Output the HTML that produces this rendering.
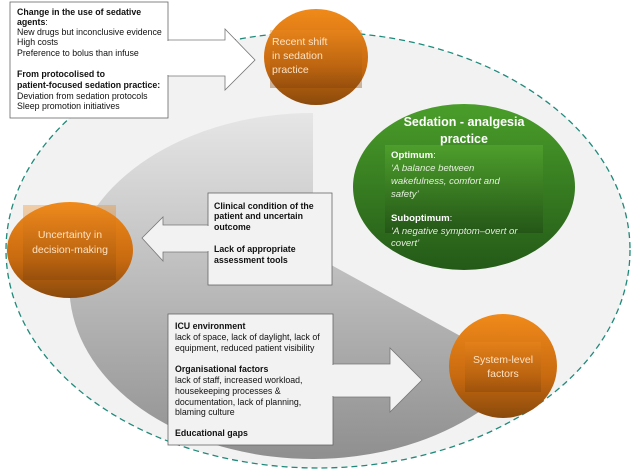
<!DOCTYPE html>
<html><head><meta charset="utf-8"><style>
html,body{margin:0;padding:0;background:#fff;}
svg{display:block;font-family:"Liberation Sans",sans-serif;}
</style></head><body>
<svg width="636" height="471" viewBox="0 0 636 471" xmlns="http://www.w3.org/2000/svg">
<defs>
<linearGradient id="gray" x1="0" y1="0" x2="0" y2="1">
<stop offset="0" stop-color="#e6e6e6"/><stop offset="1" stop-color="#8f8f8f"/></linearGradient>
<linearGradient id="orng" x1="0" y1="0" x2="0" y2="1">
<stop offset="0" stop-color="#f08a1a"/><stop offset="0.6" stop-color="#c86a10"/><stop offset="1" stop-color="#8a4a0c"/></linearGradient>
<linearGradient id="orngIn" x1="0" y1="0" x2="0" y2="1">
<stop offset="0" stop-color="#ee8a20"/><stop offset="1" stop-color="#7a3e08"/></linearGradient>
<linearGradient id="grn" x1="0" y1="0" x2="0" y2="1">
<stop offset="0" stop-color="#4a9e2a"/><stop offset="1" stop-color="#245a18"/></linearGradient>
<linearGradient id="grnIn" x1="0" y1="0" x2="0" y2="1">
<stop offset="0" stop-color="#56aa30"/><stop offset="1" stop-color="#1f4a14"/></linearGradient>
</defs>
<ellipse cx="318" cy="250" rx="312" ry="218" fill="#f2f2f2" stroke="#1f8a7a" stroke-width="1.3" stroke-dasharray="6,4"/>
<path d="M313,113 A243,173 0 1,0 524,371 L313,255 Z" fill="url(#gray)"/>
<!-- top-left box + arrow -->
<rect x="10" y="2" width="158" height="116" fill="#fff" stroke="#666" stroke-width="0.8"/>
<polygon points="168,40 225,40 225,29 255,60 225,90 225,76 168,76" fill="#fff" stroke="#777" stroke-width="0.8"/>
<rect x="166" y="41" width="4" height="34" fill="#fff"/>
<g font-size="8.8" fill="#111">
<text x="17" y="15" font-weight="bold">Change in the use of sedative</text>
<text x="17" y="25"><tspan font-weight="bold">agents</tspan>:</text>
<text x="17" y="35">New drugs but inconclusive evidence</text>
<text x="17" y="45">High costs</text>
<text x="17" y="56">Preference to bolus than infuse</text>
<text x="17" y="77" font-weight="bold">From protocolised to</text>
<text x="17" y="88" font-weight="bold">patient-focused sedation practice:</text>
<text x="17" y="99">Deviation from sedation protocols</text>
<text x="17" y="109">Sleep promotion initiatives</text>
</g>
<!-- clinical box + arrow -->
<rect x="208" y="193" width="124" height="92" fill="#f2f2f2" stroke="#666" stroke-width="0.8"/>
<polygon points="208,225 163,225 163,217 142,238 163,261 163,252 208,252" fill="#f2f2f2" stroke="#777" stroke-width="0.8"/>
<rect x="206" y="226" width="4" height="25" fill="#f2f2f2"/>
<g font-size="8.8" fill="#111" font-weight="bold">
<text x="214" y="209">Clinical condition of the</text>
<text x="214" y="219">patient and uncertain</text>
<text x="214" y="230">outcome</text>
<text x="214" y="252">Lack of appropriate</text>
<text x="214" y="263">assessment tools</text>
</g>
<!-- ICU box + arrow -->
<rect x="168" y="314" width="165" height="131" fill="#f2f2f2" stroke="#666" stroke-width="0.8"/>
<polygon points="333,364 390,364 390,348 422,380 390,412 390,397 333,397" fill="#f2f2f2" stroke="#777" stroke-width="0.8"/>
<rect x="331" y="365" width="4" height="31" fill="#f2f2f2"/>
<g font-size="8.8" fill="#111">
<text x="175" y="329" font-weight="bold">ICU environment</text>
<text x="175" y="340">lack of space, lack of daylight, lack of</text>
<text x="175" y="351">equipment, reduced patient visibility</text>
<text x="175" y="372" font-weight="bold">Organisational factors</text>
<text x="175" y="383">lack of staff, increased workload,</text>
<text x="175" y="394">housekeeping processes &amp;</text>
<text x="175" y="405">documentation, lack of planning,</text>
<text x="175" y="415">blaming culture</text>
<text x="175" y="436" font-weight="bold">Educational gaps</text>
</g>
<!-- orange circles -->
<ellipse cx="316" cy="57" rx="52" ry="48" fill="url(#orng)"/>
<rect x="270" y="30" width="92" height="58" fill="url(#orngIn)" opacity="0.35"/>
<g font-size="10.5" fill="#fde3c4">
<text x="272" y="45">Recent shift</text>
<text x="272" y="59">in sedation</text>
<text x="272" y="73">practice</text>
</g>
<ellipse cx="70" cy="250" rx="63" ry="48" fill="url(#orng)"/>
<rect x="23" y="205" width="93" height="75" fill="url(#orngIn)" opacity="0.35"/>
<g font-size="10.5" fill="#fde3c4" text-anchor="middle">
<text x="70" y="238">Uncertainty in</text>
<text x="70" y="253">decision-making</text>
</g>
<ellipse cx="503" cy="366" rx="54" ry="52" fill="url(#orng)"/>
<rect x="465" y="342" width="76" height="50" fill="url(#orngIn)" opacity="0.35"/>
<g font-size="10.5" fill="#fde3c4" text-anchor="middle">
<text x="503" y="363">System-level</text>
<text x="503" y="377">factors</text>
</g>
<!-- green -->
<ellipse cx="464" cy="187" rx="111" ry="83" fill="url(#grn)"/>
<rect x="385" y="145" width="158" height="88" fill="url(#grnIn)" opacity="0.6"/>
<g fill="#fff" text-anchor="middle" font-size="12.5" font-weight="bold">
<text x="464" y="126">Sedation - analgesia</text>
<text x="464" y="143">practice</text>
</g>
<g font-size="9.6" fill="#fff">
<text x="391" y="158"><tspan font-weight="bold">Optimum</tspan>:</text>
<text x="391" y="171" font-style="italic" fill="#e4f0dc">‘A balance between</text>
<text x="391" y="184" font-style="italic" fill="#e4f0dc">wakefulness, comfort and</text>
<text x="391" y="197" font-style="italic" fill="#e4f0dc">safety’</text>
<text x="391" y="221"><tspan font-weight="bold">Suboptimum</tspan>:</text>
<text x="391" y="234" font-style="italic" fill="#e4f0dc">‘A negative symptom–overt or</text>
<text x="391" y="246" font-style="italic" fill="#e4f0dc">covert’</text>
</g>
</svg>
</body></html>
